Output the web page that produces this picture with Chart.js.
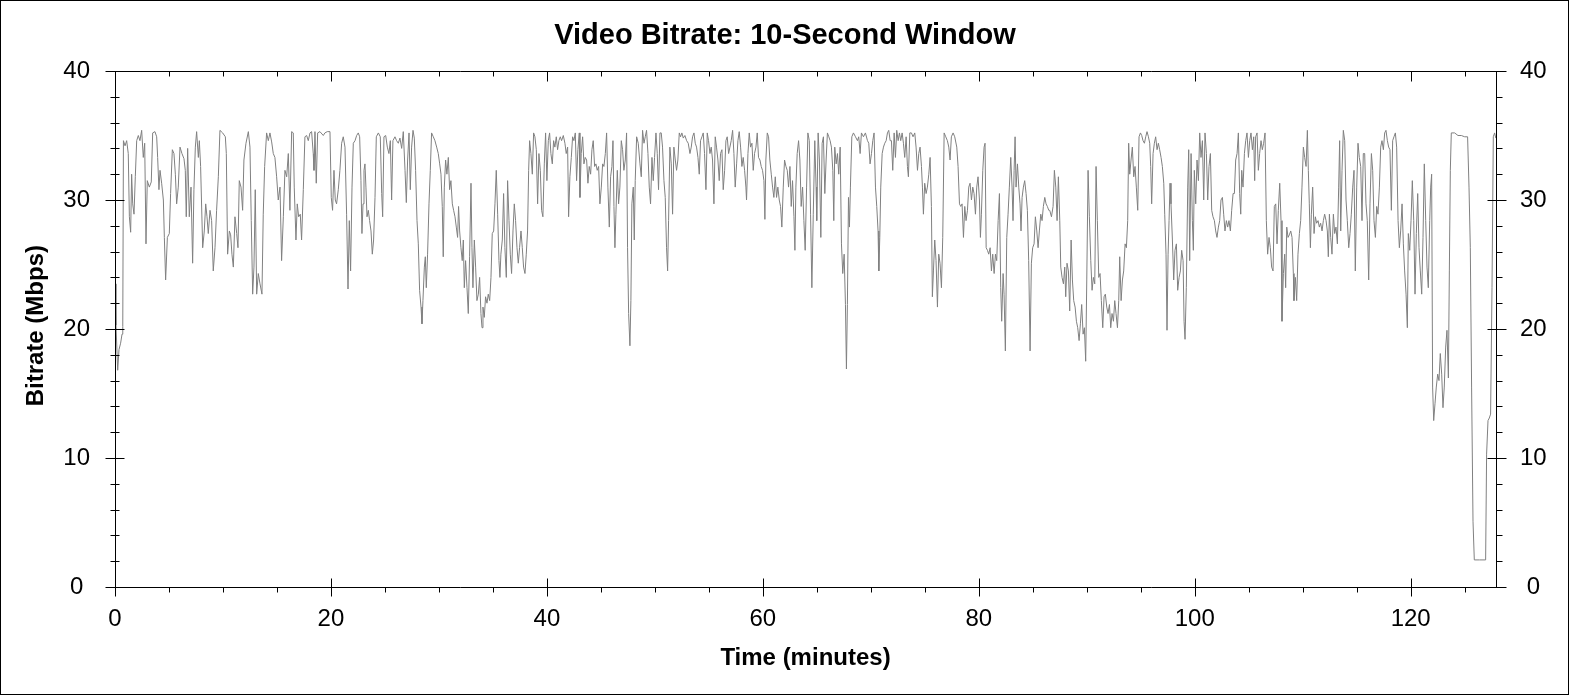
<!DOCTYPE html>
<html lang="en">
<head>
  <meta charset="UTF-8" />
  <title>Video Bitrate: 10-Second Window</title>
  <script src="https://cdn.jsdelivr.net/npm/chart.js"></script>
  <style>
    html, body { margin: 0; padding: 0; background: #fff; }
    #chart { display: block; }
  </style>
</head>
<body>
  <canvas id="chart" width="1570" height="695"></canvas>

  <script>
    // time of each sample, in minutes
    const minutes = [
      0.00, 0.09, 0.25, 0.37, 0.52, 0.65, 0.72, 0.78, 0.93, 1.08, 1.23, 1.33, 1.45, 1.54, 1.64, 1.76, 1.88, 2.01, 2.16, 2.31,
      2.47, 2.62, 2.75, 2.87, 2.99, 3.18, 3.36, 3.49, 3.70, 3.86, 3.95, 4.07, 4.17, 4.32, 4.48, 4.57, 4.69, 4.85, 5.03, 5.15,
      5.31, 5.46, 5.59, 5.71, 5.86, 6.02, 6.20, 6.39, 6.51, 6.60, 6.73, 6.88, 7.04, 7.19, 7.31, 7.44, 7.56, 7.72, 7.81, 7.93,
      8.12, 8.27, 8.40, 8.52, 8.64, 8.80, 8.95, 9.10, 9.26, 9.41, 9.57, 9.72, 9.97, 10.22, 10.31, 10.43, 10.59, 10.71, 10.83, 10.96,
      11.11, 11.27, 11.39, 11.51, 11.67, 11.82, 11.94, 12.13, 12.35, 12.50, 12.62, 12.75, 12.87, 12.99, 13.12, 13.27, 13.43, 13.61, 13.73, 13.86,
      14.04, 14.20, 14.35, 14.51, 14.66, 14.81, 14.97, 15.12, 15.28, 15.43, 15.59, 15.74, 15.90, 16.05, 16.20, 16.36, 16.51, 16.60, 16.76, 16.88,
      17.01, 17.16, 17.28, 17.44, 17.59, 17.75, 17.90, 18.06, 18.21, 18.36, 18.43, 18.52, 18.64, 18.77, 18.98, 19.29, 19.44, 19.66, 19.91, 20.03,
      20.15, 20.28, 20.40, 20.52, 20.68, 20.83, 20.99, 21.14, 21.30,
      21.45, 21.58, 21.70, 21.82, 21.95, 22.07, 22.23, 22.38, 22.53, 22.66, 22.78, 22.87, 22.97, 23.06, 23.15, 23.24, 23.34, 23.46, 23.58, 23.71,
      23.83, 23.95, 24.08, 24.20, 24.39, 24.57, 24.70, 24.79, 24.91, 25.07, 25.22, 25.37, 25.50, 25.62, 25.74, 25.93, 26.08, 26.24, 26.39, 26.55,
      26.70, 26.86, 26.98, 27.10, 27.23, 27.35, 27.47, 27.60, 27.72, 27.84, 27.97, 28.09, 28.21, 28.34, 28.43, 28.52, 28.65, 28.74, 28.83, 28.95,
      29.08, 29.20, 29.32, 29.48, 29.63, 29.79, 29.94, 30.07, 30.19, 30.31, 30.40, 30.50, 30.62, 30.74, 30.87, 30.99, 31.11, 31.24, 31.36, 31.49,
      31.61, 31.73, 31.82, 31.92, 32.04, 32.16, 32.26, 32.35, 32.47, 32.60, 32.72, 32.84, 32.97, 33.06, 33.15, 33.28, 33.40, 33.52, 33.65, 33.77,
      33.89, 33.99, 34.08, 34.20, 34.32, 34.45, 34.57, 34.70, 34.82, 34.94, 35.07, 35.19, 35.31, 35.44, 35.56, 35.65, 35.74, 35.87, 35.99, 36.11,
      36.24, 36.36, 36.49, 36.61, 36.73, 36.86, 36.98, 37.10, 37.23, 37.35, 37.47, 37.60, 37.72, 37.84, 37.97, 38.09, 38.21, 38.31, 38.40, 38.52,
      38.65, 38.77, 38.89, 39.02, 39.14, 39.26, 39.39, 39.51, 39.63, 39.76, 39.88, 40.00, 40.13, 40.25, 40.37, 40.50, 40.62, 40.74, 40.87, 40.99,
      41.11, 41.24, 41.36, 41.52, 41.67, 41.79, 41.92, 42.01, 42.13, 42.26, 42.38, 42.50, 42.63, 42.75, 42.87, 43.00,
      43.06, 43.18, 43.31, 43.43, 43.55, 43.68, 43.80, 43.92, 44.05, 44.17, 44.29, 44.42, 44.54, 44.66, 44.79, 44.91, 45.04, 45.16, 45.28, 45.41,
      45.53, 45.65, 45.78, 45.90, 46.02, 46.12, 46.21, 46.30, 46.39, 46.52, 46.64, 46.76, 46.89, 47.01, 47.13, 47.26, 47.38, 47.47, 47.57, 47.69,
      47.78, 47.87, 48.00, 48.09, 48.18, 48.31, 48.46, 48.62, 48.74, 48.86, 48.99, 49.11, 49.23, 49.36, 49.48, 49.60, 49.73, 49.85, 49.97, 50.10,
      50.22, 50.34, 50.47, 50.59, 50.71, 50.84, 50.96, 51.08, 51.18, 51.27, 51.39, 51.52, 51.64, 51.76, 51.89, 52.01, 52.13, 52.26, 52.38, 52.50,
      52.63, 52.78, 52.94, 53.09, 53.25, 53.37, 53.49, 53.62, 53.74, 53.86, 53.99, 54.11, 54.23, 54.36, 54.48, 54.60, 54.73, 54.85, 54.97, 55.10,
      55.22, 55.34, 55.47, 55.59, 55.71, 55.84, 55.96, 56.08, 56.21, 56.33, 56.46, 56.58, 56.70, 56.83, 56.95, 57.07, 57.20, 57.32, 57.44, 57.57,
      57.69, 57.81, 57.94, 58.06, 58.18, 58.31, 58.43, 58.49, 58.62, 58.74, 58.86, 58.99, 59.11, 59.23, 59.36, 59.48, 59.60, 59.73, 59.85, 59.97,
      60.10, 60.19, 60.28, 60.41, 60.53, 60.65, 60.78, 60.90, 61.02, 61.15, 61.27, 61.39, 61.52, 61.64, 61.76, 61.89, 62.01, 62.14, 62.26, 62.38,
      62.51, 62.63, 62.75, 62.88, 62.97, 63.06, 63.18, 63.31, 63.43, 63.55, 63.68, 63.80, 63.92, 64.05, 64.17, 64.30, 64.42, 64.54, 64.67,
      64.81, 64.93, 64.99, 65.12, 65.24, 65.37, 65.49, 65.61, 65.74, 65.86, 65.98, 66.11, 66.23, 66.35, 66.48, 66.57, 66.66, 66.79, 66.91, 67.03,
      67.16, 67.28, 67.40, 67.53, 67.65, 67.74, 67.83, 67.93, 68.02, 68.11, 68.24, 68.39, 68.58, 68.76, 68.88, 69.01, 69.13, 69.32, 69.50, 69.69,
      69.81, 69.93, 70.06, 70.18, 70.30, 70.43, 70.55, 70.67, 70.74, 70.83, 70.92, 71.05, 71.17, 71.29, 71.42, 71.54, 71.66, 71.79, 71.91, 72.03,
      72.16, 72.28, 72.40, 72.53, 72.65, 72.77, 72.90, 73.02, 73.14, 73.27, 73.39, 73.48, 73.61, 73.76, 73.91, 74.07, 74.19, 74.32, 74.44, 74.56,
      74.69, 74.78, 74.87, 74.99, 75.12, 75.24, 75.37, 75.49, 75.61, 75.70, 75.80, 75.92, 76.04, 76.17, 76.29, 76.41, 76.54, 76.66, 76.79, 76.94,
      77.09, 77.22, 77.34, 77.46, 77.62, 77.77, 77.96, 78.08, 78.21, 78.33, 78.45, 78.58, 78.70, 78.82, 78.95, 79.07, 79.19, 79.32, 79.44, 79.56,
      79.69, 79.81, 79.93, 80.06, 80.15, 80.24, 80.37, 80.49, 80.58, 80.68, 80.80, 80.92, 81.05, 81.17, 81.29, 81.42, 81.54, 81.66, 81.79, 81.91,
      82.03, 82.12, 82.25, 82.34, 82.46, 82.59, 82.71, 82.83, 82.96, 83.08, 83.17, 83.27, 83.36, 83.45, 83.58, 83.70, 83.82, 83.91, 84.01, 84.13,
      84.25, 84.38, 84.50, 84.62, 84.75, 84.87, 84.99, 85.12, 85.24, 85.37, 85.49, 85.61, 85.74, 85.86, 85.98, 86.11, 86.23, 86.35, 86.48,
      86.57, 86.73, 86.88, 87.00, 87.13, 87.25, 87.37, 87.50, 87.59, 87.71, 87.84, 87.96, 88.05, 88.17, 88.30, 88.42, 88.55, 88.67, 88.79, 88.92,
      89.04, 89.16, 89.29, 89.41, 89.53, 89.66, 89.78, 89.90, 90.00, 90.12, 90.24, 90.37, 90.49, 90.61, 90.74, 90.86, 90.98, 91.11, 91.23, 91.35,
      91.48, 91.60, 91.72, 91.85, 91.97, 92.10, 92.22, 92.34, 92.47, 92.59, 92.71, 92.84, 92.96, 93.05, 93.18, 93.30, 93.42, 93.55, 93.67, 93.79,
      93.88, 93.98, 94.10, 94.22, 94.35, 94.47, 94.59, 94.72, 94.84, 94.97, 95.09, 95.21, 95.34, 95.46, 95.58, 95.71, 95.83, 95.92, 96.01, 96.14,
      96.26, 96.38, 96.51, 96.63, 96.75, 96.88, 97.00, 97.13, 97.22, 97.34, 97.43, 97.53, 97.62, 97.71, 97.80, 97.93, 98.05, 98.17, 98.30, 98.42,
      98.55, 98.67, 98.79, 98.92, 99.01, 99.10, 99.22, 99.35, 99.44, 99.53, 99.66, 99.78, 99.87, 99.96, 100.09, 100.21, 100.34, 100.46, 100.58, 100.71,
      100.83, 100.95, 101.08, 101.20, 101.32, 101.45, 101.57, 101.69, 101.82, 101.94, 102.06, 102.19, 102.31, 102.43, 102.56, 102.68, 102.80, 102.93, 103.05, 103.17,
      103.30, 103.42, 103.55, 103.67, 103.79, 103.92, 104.04, 104.16, 104.26, 104.35, 104.47, 104.60, 104.72, 104.84, 104.97, 105.09, 105.21, 105.34, 105.46, 105.55,
      105.64, 105.77, 105.89, 106.01, 106.14, 106.26, 106.38, 106.51, 106.63, 106.75, 106.88, 107.00, 107.12, 107.25, 107.37, 107.50, 107.62, 107.74, 107.87, 107.99,
      108.08, 108.21,
      108.33, 108.42, 108.52, 108.64, 108.76, 108.89, 109.01, 109.13, 109.19, 109.32, 109.44, 109.56, 109.69, 109.81, 109.93, 110.06, 110.18, 110.31, 110.43, 110.52,
      110.61, 110.71, 110.80, 110.92, 111.05, 111.17, 111.29, 111.42, 111.54, 111.66, 111.79, 111.91, 112.03, 112.16, 112.28, 112.37, 112.47, 112.59, 112.71, 112.84,
      112.96, 113.08, 113.21, 113.33, 113.42, 113.52, 113.64, 113.76, 113.89, 114.01, 114.13, 114.26, 114.38, 114.50, 114.63, 114.75, 114.87, 115.00, 115.12, 115.24,
      115.37, 115.49, 115.61, 115.74, 115.86, 115.98, 116.11, 116.23, 116.36, 116.48, 116.60, 116.73, 116.85, 116.97, 117.10, 117.22, 117.34, 117.47, 117.59, 117.71,
      117.84, 117.96, 118.08, 118.21, 118.33, 118.45, 118.58, 118.70, 118.83, 118.95, 119.07, 119.20, 119.32, 119.44, 119.57, 119.69, 119.78, 119.91, 120.03, 120.15,
      120.28, 120.40, 120.52, 120.65, 120.77, 120.89, 121.02, 121.14, 121.26, 121.39, 121.51, 121.63, 121.76, 121.85, 121.94, 122.03, 122.13, 122.25, 122.37, 122.50,
      122.62, 122.74, 122.87, 122.99, 123.11, 123.24, 123.36, 123.49, 123.58, 123.67, 123.76, 124.07, 124.38, 124.69, 125.00, 125.27, 125.40, 125.52, 125.64, 125.77,
      125.89, 126.38, 126.94, 127.03, 127.16, 127.28, 127.40, 127.53, 127.65, 127.77, 127.88
    ];

    // 10-second window bitrate, Mbps
    const mbps = [
      23.5, 20.3, 16.8, 18.4, 18.9, 19.6, 20.2, 34.6, 34.2, 34.6, 33.6, 28.7, 27.5, 32.0, 29.7, 28.9, 31.8, 34.6, 35.0, 34.6,
      35.4, 33.3, 34.4, 26.6, 31.5, 31.0, 31.4, 35.2, 35.3, 34.9, 33.3, 30.8, 32.3, 31.3, 30.0, 27.1, 23.8, 27.1, 27.4, 30.5,
      33.9, 33.6, 32.0, 29.7, 31.0, 34.1, 33.6, 33.2, 32.3, 28.7, 34.0, 28.7, 31.0, 25.1, 30.8, 34.1, 35.3, 33.3, 34.6, 32.6,
      26.3, 27.6, 29.7, 28.7, 27.4, 29.2, 28.4, 24.5, 26.3, 29.2, 31.8, 35.4, 35.2, 34.9, 33.6, 25.8, 27.6, 27.3, 25.8, 24.8,
      28.7, 27.4, 26.3, 31.5, 31.0, 29.2, 33.1, 34.4, 35.3, 34.1, 28.4, 22.7, 24.8, 30.8, 22.7, 24.3, 23.5, 22.7, 28.9, 32.6,
      35.2, 34.6, 35.2, 34.5, 33.6, 33.3, 31.8, 30.0, 31.0, 25.3, 28.7, 32.3, 31.8, 33.6, 29.2, 35.3, 35.2, 31.0, 26.9, 29.7,
      28.7, 28.9, 26.9, 30.8, 34.9, 35.0, 34.6, 35.2, 35.3, 33.6, 32.3, 35.3, 31.3, 35.2, 35.3, 35.0, 35.2, 35.3, 35.3, 30.2,
      29.2, 32.3, 30.0, 29.7, 30.8, 32.3, 34.4, 34.9, 34.1,
      28.9, 23.1, 28.4, 24.5, 31.0, 34.4, 34.6, 35.0, 35.2, 34.9, 31.5, 27.4, 29.7, 32.3, 32.8, 31.0, 28.7, 29.2, 28.4, 27.6,
      25.8, 26.9, 30.2, 34.9, 35.2, 34.9, 30.5, 28.7, 34.9, 35.0, 34.1, 33.6, 34.6, 30.0, 34.6, 34.9, 34.6, 34.4, 34.8, 34.0,
      35.3, 32.3, 29.8, 33.1, 35.2, 30.8, 34.1, 35.4, 34.8, 32.3, 28.4, 26.6, 23.0, 21.7, 20.4, 22.2, 24.8, 25.6, 23.2, 25.8,
      29.7, 32.3, 35.2, 34.9, 34.6, 34.1, 33.6, 32.8, 32.0, 29.5, 25.6, 31.0, 33.1, 32.0, 33.3, 30.8, 31.5, 29.7, 29.2, 28.7,
      27.9, 27.1, 29.5, 27.6, 26.3, 25.3, 26.9, 23.2, 25.3, 23.2, 21.2, 25.6, 31.3, 26.3, 23.2, 26.9, 24.8, 22.2, 22.7, 24.0,
      21.2, 20.1, 21.7, 20.9, 22.5, 22.0, 22.7, 22.2, 24.0, 27.4, 27.6, 29.7, 32.3, 28.9, 25.3, 24.0, 25.8, 26.9, 30.5, 26.3,
      24.0, 31.5, 28.4, 25.8, 24.3, 27.6, 29.7, 28.4, 26.3, 25.1, 26.3, 27.6, 26.3, 24.8, 24.3, 25.8, 27.6, 32.3, 34.6, 33.6,
      32.0, 35.2, 34.9, 33.9, 29.7, 33.6, 32.3, 29.2, 28.7, 32.8, 35.2, 31.5, 34.6, 35.2, 33.6, 32.8, 34.6, 34.1, 34.9, 33.9,
      34.6, 34.9, 34.6, 35.0, 34.4, 33.6, 34.1, 28.7, 31.8, 33.3, 34.9, 34.6, 35.2, 31.5, 33.9, 35.2,
      30.2, 33.6, 34.9, 32.8, 33.3, 33.1, 31.3, 32.6, 32.0, 33.9, 34.6, 32.6, 32.8, 32.3, 32.6, 29.7, 31.0, 32.8, 32.6, 33.6,
      35.2, 31.0, 27.9, 31.8, 32.6, 34.6, 29.5, 26.3, 28.9, 32.3, 29.7, 31.0, 34.6, 33.9, 32.3, 33.1, 35.2, 26.3, 21.2, 18.7,
      22.2, 29.7, 31.0, 26.9, 31.5, 34.9, 34.4, 32.8, 31.8, 35.4, 34.4, 34.9, 35.4, 33.6, 31.0, 29.7, 33.3, 31.5, 33.3, 35.2,
      33.6, 30.8, 35.2, 35.2, 34.1, 31.5, 30.2, 26.3, 24.5, 28.4, 34.1, 32.8, 28.9, 34.1, 33.1, 32.3, 33.1, 35.2, 34.9, 35.2,
      34.8, 35.0, 34.6, 34.4, 33.6, 34.1, 34.9, 35.2, 34.4, 34.1, 33.3, 32.0, 34.6, 34.9, 35.2, 33.6, 30.8, 35.2, 34.6, 33.6,
      34.1, 33.1, 29.7, 34.9, 34.1, 33.1, 31.5, 33.6, 33.9, 30.8, 32.3, 34.6, 34.9, 33.6, 34.1, 34.6, 35.4, 33.6, 31.0, 32.8,
      34.6, 35.3, 34.1, 32.6, 33.3, 32.3, 31.0, 30.0, 33.6, 35.2, 34.1, 34.4, 32.3, 33.6, 34.1, 35.2, 33.3, 33.1, 32.6, 32.3,
      31.5, 28.5, 33.1, 35.2, 34.9, 33.1, 32.0, 31.0, 30.2, 31.8, 30.2, 31.0, 30.0, 29.5, 27.9, 31.0, 33.1, 32.6, 32.3, 31.0,
      32.6, 29.5, 31.5, 28.7, 26.1, 31.0, 33.6, 34.6, 33.1, 29.5, 31.0, 28.4, 26.1, 31.0, 35.2, 34.6, 28.9, 23.2, 28.9,
      34.6, 31.0, 28.4, 35.2, 33.1, 27.1, 34.4, 34.9, 30.5, 33.1, 35.2, 34.9, 34.6, 34.1, 32.3, 28.4, 34.1, 32.8, 33.6, 32.0,
      34.1, 26.6, 24.3, 25.8, 21.9, 16.9, 21.9, 30.2, 27.9, 31.0, 34.9, 35.2, 34.9, 34.6, 34.9, 33.6, 35.2, 34.9, 35.2, 34.6,
      34.4, 32.8, 33.6, 34.6, 35.2, 31.0, 29.5, 27.6, 24.5, 27.1, 31.0, 33.6, 34.1, 34.4, 34.6, 35.2, 35.4, 34.6, 34.6, 32.3,
      35.2, 33.3, 35.4, 34.6, 35.2, 34.6, 35.2, 34.4, 33.3, 34.9, 32.6, 31.8, 35.2, 35.2, 34.9, 35.2, 34.1, 32.3, 33.6, 34.1,
      32.6, 31.0, 28.9, 31.3, 30.5, 31.0, 32.0, 33.3, 29.5, 22.5, 24.5, 26.9, 25.3, 21.7, 25.8, 25.1, 23.2, 27.1, 35.2, 34.9,
      34.6, 34.1, 33.1, 34.9, 35.2, 34.9, 34.1, 32.6, 29.7, 29.5, 29.7, 27.1, 29.5, 28.4, 29.2, 31.0, 31.3, 30.0, 31.0, 30.5,
      28.9, 31.0, 31.8, 30.0, 27.1, 28.9, 32.3, 34.1, 34.4, 26.3, 26.1, 25.8, 26.3, 24.5, 25.8, 24.3, 25.8, 25.3, 28.4, 30.5,
      23.2, 20.6, 24.3, 22.7, 18.3, 27.1, 28.9, 31.0, 33.3, 31.0, 28.4, 32.3, 34.9, 31.0, 32.8, 31.0, 29.7, 27.6, 30.2, 31.0,
      31.5, 30.5, 29.2, 25.3, 18.3, 25.1, 26.3, 26.6, 28.7, 27.6, 26.3, 27.6, 28.9, 28.4, 29.5, 30.2, 29.7, 29.5, 29.2,
      29.2, 28.7, 29.5, 32.3, 31.0, 28.4, 31.8, 28.4, 24.8, 24.0, 23.5, 24.8, 22.5, 25.1, 24.5, 21.4, 26.9, 23.8, 22.2, 21.7,
      20.6, 20.1, 19.1, 20.4, 21.9, 19.6, 20.1, 17.5, 23.8, 32.3, 28.7, 25.3, 23.0, 24.0, 23.5, 32.6, 28.4, 24.0, 24.3, 22.2,
      20.1, 22.5, 22.7, 21.7, 21.2, 21.9, 20.1, 21.2, 20.6, 22.2, 21.2, 20.1, 22.2, 25.6, 22.2, 23.8, 24.5, 26.6, 26.3, 28.4,
      34.4, 32.0, 33.1, 34.1, 31.8, 32.6, 31.0, 29.2, 34.9, 35.2, 35.0, 34.6, 34.4, 34.9, 35.3, 34.9, 34.4, 32.6, 29.7, 33.6,
      34.4, 34.9, 33.9, 34.4, 33.9, 33.3, 32.6, 31.3, 28.9, 25.8, 19.9, 25.8, 28.4, 31.3, 29.7, 26.9, 23.8, 26.1, 26.6, 23.0,
      24.0, 24.5, 26.1, 25.3, 20.6, 19.2, 23.2, 31.0, 33.9, 25.3, 33.6, 28.4, 26.1, 32.3, 29.7, 33.1, 31.5, 35.2, 33.3, 34.6,
      30.0, 35.2, 33.6, 30.0, 32.6, 33.6, 29.2, 28.7, 28.4, 27.6, 27.1, 27.9, 28.4, 30.0, 30.2, 28.9, 27.6, 28.4, 27.9, 28.4,
      27.6, 29.2, 30.5, 30.5, 33.1, 33.6, 35.2, 30.5, 28.9, 32.3, 31.0, 33.6, 34.6, 35.2, 33.3, 34.6, 35.2, 33.9, 34.9, 31.5,
      34.9, 35.2, 32.3, 33.6, 34.6, 33.9, 34.4, 35.2, 28.4, 25.8, 27.1, 26.3, 24.8, 24.5, 29.5, 29.7, 26.6, 29.2, 31.3, 28.4,
      20.6, 24.3,
      25.8, 23.2, 27.9, 27.1, 27.3, 27.6, 27.1, 24.3, 22.2, 24.0, 22.2, 25.8, 27.4, 28.4, 31.0, 34.1, 33.3, 32.6, 35.4, 32.3,
      29.7, 26.3, 28.9, 31.0, 27.4, 28.7, 28.2, 28.4, 27.9, 28.2, 27.6, 28.4, 28.9, 28.4, 27.6, 25.6, 28.9, 27.1, 25.8, 28.9,
      27.4, 27.9, 26.6, 31.0, 34.6, 27.6, 32.3, 35.4, 34.6, 30.0, 28.4, 26.3, 27.4, 28.9, 31.0, 32.3, 24.5, 31.0, 34.4, 33.3,
      32.6, 28.4, 33.6, 33.6, 29.7, 28.4, 23.8, 29.7, 33.6, 32.3, 28.4, 27.1, 29.5, 28.9, 31.0, 34.1, 34.6, 33.9, 35.2, 35.4,
      34.6, 34.1, 33.9, 29.2, 34.6, 34.9, 35.2, 34.1, 28.4, 26.3, 27.6, 29.7, 26.6, 24.5, 22.7, 20.1, 27.4, 26.1, 28.4, 31.5,
      28.4, 22.7, 27.4, 30.5, 26.3, 24.5, 22.7, 27.1, 32.8, 28.4, 24.8, 23.2, 28.4, 31.0, 32.0, 15.5, 12.9, 14.2, 15.5, 16.5,
      16.0, 18.1, 16.5, 13.9, 15.5, 18.6, 19.9, 16.2, 24.5, 32.3, 35.2, 35.2, 35.0, 35.0, 34.9, 34.9, 31.0, 26.3, 15.5, 5.1,
      2.1, 2.1, 2.1, 10.3, 12.9, 13.1, 13.4, 23.2, 34.9, 35.2, 34.8
    ];

    const xTicks = [0, 20, 40, 60, 80, 100, 120];
    const yTicks = [0, 10, 20, 30, 40];

    const fontFamily = "Arial, 'Liberation Sans', sans-serif";

    // axis lines with major / minor tick marks like the original plot
    const axisFrame = {
      id: 'axisFrame',
      afterDraw(chart) {
        const { ctx, chartArea: a, scales: { x, y } } = chart;
        const L = Math.round(a.left) + 0.5;
        const R = Math.round(a.right) + 0.5;
        const T = Math.round(a.top) + 0.5;
        const B = Math.round(a.bottom) + 0.5;
        const line = (x1, y1, x2, y2) => { ctx.moveTo(x1, y1); ctx.lineTo(x2, y2); };

        ctx.save();
        ctx.strokeStyle = '#000';
        ctx.lineWidth = 1;
        ctx.beginPath();
        line(L, T, L, B);
        line(R, T, R, B);
        line(L, T, R, T);
        line(L, B, R, B);

        for (let v = 0; v <= 40; v += 2) {
          const py = Math.round(y.getPixelForValue(v)) + 0.5;
          if (v % 10 === 0) {
            line(L - 10, py, L + 9, py);
            line(R - 9, py, R + 10, py);
          } else {
            line(L - 5, py, L + 4, py);
            line(R, py, R + 6, py);
          }
        }
        for (let t = 0; t <= 125; t += 5) {
          const px = Math.round(x.getPixelForValue(t)) + 0.5;
          if (t % 20 === 0) {
            line(px, B - 9, px, B + 9);
            line(px, T, px, T + 10);
          } else {
            line(px, B, px, B + 5);
            line(px, T, px, T + 5);
          }
        }
        ctx.stroke();

        // outer frame of the picture
        ctx.strokeRect(0.5, 0.5, chart.width - 2, chart.height - 1);
        ctx.restore();
      }
    };

    const ctx = document.getElementById('chart').getContext('2d');
    new Chart(ctx, {
      type: 'line',
      data: {
        datasets: [{
          label: 'Bitrate',
          data: minutes.map((t, i) => ({ x: t, y: mbps[i] })),
          borderColor: '#808080',
          borderWidth: 1,
          pointRadius: 0,
          tension: 0,
          fill: false,
          yAxisID: 'y'
        }]
      },
      options: {
        responsive: false,
        devicePixelRatio: 1,
        animation: false,
        layout: { padding: 0 },
        plugins: {
          legend: { display: false },
          tooltip: { enabled: false },
          title: {
            display: true,
            text: 'Video Bitrate: 10-Second Window',
            color: '#000',
            font: { family: fontFamily, size: 29, weight: 'bold', lineHeight: 1.2 },
            padding: { top: 19, bottom: 17.2 }
          }
        },
        scales: {
          x: {
            type: 'linear',
            position: 'bottom',
            min: 0,
            max: 127.9,
            afterBuildTicks: s => { s.ticks = xTicks.map(v => ({ value: v })); },
            afterFit: s => { s.height = 108; },
            grid: { display: false, drawTicks: false },
            border: { display: false },
            ticks: {
              autoSkip: false,
              maxRotation: 0,
              padding: 18,
              color: '#000',
              font: { family: fontFamily, size: 24 }
            },
            title: {
              display: true,
              text: 'Time (minutes)',
              color: '#000',
              font: { family: fontFamily, size: 24, weight: 'bold' },
              padding: { top: 0, bottom: 22 }
            }
          },
          y: {
            type: 'linear',
            position: 'left',
            min: 0,
            max: 40,
            afterBuildTicks: s => { s.ticks = yTicks.map(v => ({ value: v })); },
            afterFit: s => { s.width = 115; },
            grid: { display: false, drawTicks: false },
            border: { display: false },
            ticks: {
              crossAlign: 'center',
              padding: 25,
              color: '#000',
              font: { family: fontFamily, size: 24 }
            },
            title: {
              display: true,
              text: ' Bitrate (Mbps)',
              color: '#000',
              font: { family: fontFamily, size: 24, weight: 'bold' },
              padding: { top: 22, bottom: 0 }
            }
          },
          y2: {
            type: 'linear',
            position: 'right',
            min: 0,
            max: 40,
            afterBuildTicks: s => { s.ticks = yTicks.map(v => ({ value: v })); },
            afterFit: s => { s.width = 74; },
            grid: { display: false, drawTicks: false },
            border: { display: false },
            ticks: {
              crossAlign: 'center',
              padding: 24,
              color: '#000',
              font: { family: fontFamily, size: 24 }
            }
          }
        }
      },
      plugins: [axisFrame]
    });
  </script>
</body>
</html>
